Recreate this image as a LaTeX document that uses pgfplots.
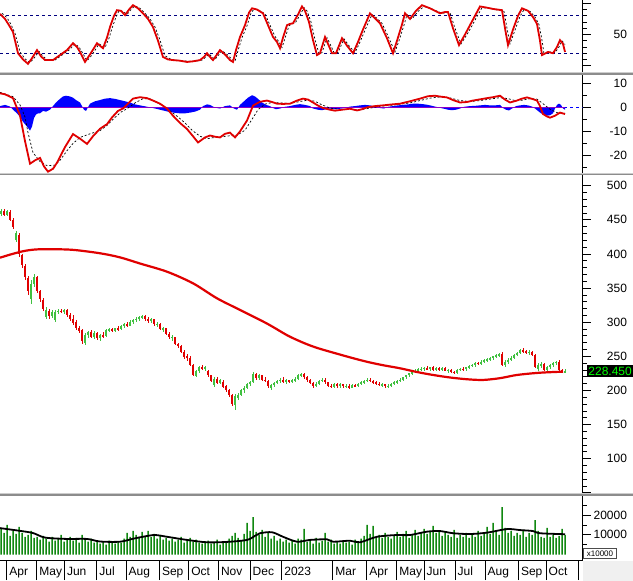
\documentclass[border=0pt]{standalone}
\usepackage{fontspec}
\setmainfont{Liberation Sans}
\usepackage{pgfplots}
\pgfplotsset{compat=1.18}
\usepackage{pgfplotstable}
\definecolor{cred}{RGB}{224,0,0}
\definecolor{cgreen}{RGB}{64,192,64}
\definecolor{vgreen}{RGB}{16,136,16}
\definecolor{navyc}{RGB}{0,0,128}
\definecolor{mpurple}{RGB}{140,0,200}
\definecolor{sepdark}{RGB}{140,140,140}
\definecolor{seplight}{RGB}{205,205,205}
\definecolor{pgreen}{RGB}{0,255,0}

\pgfplotstableread{
x o h l c v
1 458 466 456 463 13000
4 463 466 455 457 11000
7 457 465 455 463 15000
10 462 464 448 450 9500
13 450 452 437 440 12000
16 421 433 418 431 10500
19 428 430 396 400 14000
22 398 400 380 384 11000
25 383 385 362 366 9000
28 365 367 340 345 10000
31 334 362 327 356 12000
34 356 370 352 366 8500
37 366 368 343 346 9000
40 345 347 330 334 7500
43 333 336 317 320 9500
46 308 322 305 318 8000
49 317 320 305 309 6500
52 309 318 306 315 9000
55 303 318 300 315 7000
58 315 320 312 317 8000
61 317 320 313 315 10000
64 315 319 312 318 6500
67 318 320 308 310 7500
70 310 313 302 305 9000
73 305 310 296 299 7000
76 300 303 289 292 8500
79 292 294 284 287 6000
82 288 290 268 272 10000
85 270 284 267 281 7500
88 281 287 277 285 6500
91 285 288 277 279 8000
94 279 287 276 284 6000
97 284 286 274 277 7000
100 277 283 273 281 5500
103 281 285 277 280 6500
106 280 290 279 288 5000
109 288 292 285 290 7000
112 290 292 285 287 6000
115 287 292 285 291 5500
118 291 294 287 290 6500
121 290 296 289 294 6000
124 294 299 292 297 8000
127 297 300 293 295 11000
130 295 303 294 301 9000
133 301 305 298 303 12000
136 303 307 300 305 10000
139 305 309 302 307 8500
142 307 311 304 309 11500
145 309 310 302 304 9500
148 304 307 299 302 12000
151 302 306 299 304 9000
154 304 305 295 297 10500
157 297 300 293 298 8000
160 298 299 288 290 9500
163 290 293 285 291 7500
166 291 292 281 283 8500
169 283 285 276 278 7000
172 278 281 272 279 8000
175 278 279 266 268 6500
178 268 270 262 265 7500
181 265 267 255 257 9000
184 257 259 246 249 6000
187 250 253 243 247 7000
190 247 250 236 238 8500
193 237 239 221 223 6500
196 221 230 219 228 7500
199 228 236 226 234 6000
202 234 237 230 231 5500
205 231 236 229 234 6500
208 229 230 220 222 7000
211 222 223 212 214 5500
214 208 219 205 217 6000
217 217 219 209 211 7500
220 211 217 209 215 5000
223 213 215 203 205 6500
226 206 208 198 200 6000
229 200 202 190 193 8000
232 193 195 177 180 9500
235 178 195 171 192 11000
238 189 196 186 194 8500
241 194 202 192 200 7000
244 200 206 197 204 10500
247 204 211 202 209 16000
250 209 214 206 212 12000
253 212 227 211 224 19000
256 224 225 216 218 11500
259 218 224 216 222 10000
262 222 223 214 216 12500
265 216 219 212 214 9000
268 214 216 204 206 11000
271 204 210 201 208 8000
274 208 213 205 211 9500
277 211 216 209 214 7000
280 214 218 211 216 8000
283 216 219 211 213 6500
286 213 217 210 215 7500
289 215 216 211 213 6000
292 213 217 211 215 7000
295 215 219 213 217 5500
298 217 224 215 222 8000
301 222 226 219 224 7500
304 224 226 217 219 13000
307 219 221 213 215 6500
310 215 217 209 211 7000
313 211 213 204 207 5500
316 207 212 205 210 8500
319 210 216 208 214 6000
322 214 218 212 216 7000
325 216 218 210 212 11000
328 212 213 205 207 6500
331 207 210 203 205 7500
334 205 211 203 209 5500
337 209 211 204 206 6500
340 206 211 204 209 5500
343 209 210 204 206 7000
346 206 209 203 207 6000
349 207 209 202 204 6500
352 204 209 203 208 5000
355 208 210 205 206 7500
358 206 211 205 210 6000
361 210 214 208 212 8000
364 212 216 210 214 9500
367 214 218 212 216 15000
370 216 218 212 214 10500
373 214 215 209 212 14500
376 212 214 208 210 9000
379 210 212 206 208 10000
382 208 211 205 209 8500
385 209 210 204 206 11000
388 206 209 204 207 9000
391 207 211 205 210 8000
394 210 214 208 212 9500
397 212 216 210 214 11500
400 214 218 212 216 9000
403 216 220 214 219 10500
406 219 223 217 222 12000
409 222 226 220 225 8500
412 225 229 222 227 10000
415 227 231 225 229 12500
418 229 233 226 231 9500
421 231 234 228 232 11000
424 232 235 229 233 13000
427 233 236 230 231 10500
430 231 235 229 234 12000
433 234 236 229 230 14500
436 230 234 228 233 11000
439 233 235 229 231 12000
442 231 234 228 233 9500
445 233 234 228 229 11500
448 229 232 226 230 10000
451 230 231 225 227 9000
454 227 229 224 226 12500
457 226 231 224 230 8500
460 230 233 228 232 10000
463 232 234 229 231 9000
466 231 235 229 234 11000
469 234 238 232 236 8500
472 236 239 234 238 10500
475 238 241 235 240 9000
478 240 242 237 239 12000
481 239 244 237 242 9500
484 242 246 240 244 11000
487 244 247 241 246 14000
490 246 249 243 247 10500
493 247 251 245 250 16000
496 250 254 248 252 11500
499 251 255 249 254 10000
502 254 256 236 238 24000
505 238 244 234 241 13500
508 241 247 239 245 11000
511 245 250 243 248 12000
514 248 253 246 252 9500
517 252 257 250 255 11000
520 255 261 253 259 10000
523 259 262 255 258 12500
526 258 260 253 255 9000
529 255 259 252 257 11000
532 257 258 250 252 10000
535 252 254 233 235 17500
538 232 240 229 238 12000
541 237 241 233 239 9000
544 239 240 228 230 8500
547 230 236 228 234 13500
550 234 239 232 237 9000
553 237 241 235 240 10000
556 240 243 237 242 8500
559 242 244 228 230 9500
562 230 232 226 227 13000
565 226.5 231 225 228.45 10000
}\candles

\pgfplotsset{
  panel/.style={
    scale only axis, width=582.7bp, xmin=0, xmax=582.7,
    axis x line=none, axis y line*=right,
    tick align=outside, major tick length=8bp, minor tick length=4bp,
    every tick/.style={black, line width=0.8bp},
    axis line style={black, line width=1bp, -},
    yticklabel style={anchor=east, inner sep=0pt, xshift=36.5bp},
    ticklabel style={font=\fontsize{12bp}{14bp}\selectfont},
    scaled y ticks=false,
  },
}

\begin{document}
\begin{tikzpicture}
\path[use as bounding box, fill=white] (0,0) rectangle (633bp,-581bp);

% ---------------- RSI ----------------
\begin{axis}[panel, at={(0bp,0bp)}, anchor=north west, height=72bp,
  ymin=-10.1, ymax=105.3, ytick={0,50,100}, yticklabels={{},50,{}},
  minor ytick={10,20,30,40,60,70,80,90}]
\addplot[navyc, line width=0.8bp, dash pattern=on 3bp off 3bp] coordinates {(0,80) (582.7,80)};
\addplot[navyc, line width=0.8bp, dash pattern=on 3bp off 3bp] coordinates {(0,20) (582.7,20)};
\addplot[black, line width=0.7bp, dash pattern=on 2bp off 2bp] coordinates {
(2,84)(7,77)(11,66)(15,52)(20,22)(25,11)(30,5)(34,12)(39,23)(43,15)(47,10)(51,9)(55,9)(62,17)(69,25)(75,35)(79,30)(82,22)(87,8)(92,17)(99,35)(105,29)(109,44)(112,60)(116,78)(119,88)(123,87)(127,82)(131,90)(135,96)(140,92)(145,84)(150,75)(155,62)(160,41)(165,16)(170,11)(175,9)(182,8)(189,7)(195,7)(202,9)(206,14)(209,19)(212,14)(215,10)(219,18)(222,24)(227,18)(232,10)(235,7)(238,24)(242,45)(247,64)(251,84)(254,91)(259,89)(265,83)(270,65)(275,47)(279,38)(282,29)(285,44)(289,64)(292,67)(295,68)(300,81)(304,93)(307,88)(311,70)(315,42)(319,19)(322,21)(327,45)(330,35)(334,21)(338,21)(344,43)(349,32)(355,21)(360,38)(365,57)(372,82)(377,76)(382,68)(389,44)(395,22)(399,40)(404,65)(407,82)(412,75)(418,87)(424,95)(432,91)(442,84)(447,85)(450,85)(455,60)(461,35)(467,50)(472,64)(477,79)(482,93)(489,92)(495,90)(504,87)(507,60)(510,35)(515,57)(520,79)(524,90)(530,87)(535,78)(539,66)(542,41)(544,19)(550,22)(555,21)(559,30)(562,40)(565,34)};
\addplot[cred, line width=1.8bp] coordinates {
(0,83)(5,75)(9,65)(13,54)(18,20)(23,10)(28,3)(32,12)(37,25)(41,15)(45,9)(49,9)(53,9)(60,17)(67,25)(73,36)(77,30)(80,22)(85,6)(90,18)(97,36)(103,28)(107,45)(110,62)(114,80)(117,89)(121,88)(125,81)(129,90)(133,97)(138,92)(143,84)(148,75)(153,62)(158,40)(163,14)(168,10)(173,9)(180,8)(187,6)(193,7)(200,9)(204,14)(207,20)(210,14)(213,9)(217,18)(220,25)(225,18)(230,9)(233,6)(236,25)(240,46)(245,65)(249,85)(252,92)(257,90)(263,84)(268,65)(273,46)(277,38)(280,28)(283,45)(287,65)(290,67)(293,68)(298,82)(302,95)(305,88)(309,70)(313,41)(317,17)(320,20)(325,46)(328,35)(332,20)(336,20)(342,44)(347,32)(353,20)(358,38)(363,58)(370,84)(375,76)(380,68)(387,44)(393,20)(397,40)(402,66)(405,84)(410,75)(416,88)(422,97)(430,92)(440,84)(445,86)(448,86)(453,60)(459,33)(465,50)(470,65)(475,80)(480,95)(487,93)(493,91)(502,89)(505,60)(508,33)(513,58)(518,80)(522,92)(528,88)(533,78)(537,67)(540,40)(542,17)(548,22)(553,20)(557,30)(560,41)(563,35)(565,22)};
\end{axis}

% ---------------- MACD ----------------
\begin{axis}[panel, at={(0bp,-75bp)}, anchor=north west, height=97.5bp,
  ymin=-27.05, ymax=13.4, ytick={-20,-10,0,10}, yticklabels={-20,-10,0,10},
  minor ytick={-25,-15,-5,5}]
\addplot[blue, line width=0.8bp, dash pattern=on 3bp off 3bp] coordinates {(0,0) (582.7,0)};
\addplot[fill=blue, draw=none] coordinates {
(0,0.5)(5,1.0)(10,0.3)(13,-1.0)(17,-2.5)(20,-4.0)(23,-6.0)(26,-7.5)(28,-8.5)(30,-9.7)(32,-8.0)(34,-4.5)(36,-3.0)(38,-2.5)(40,-2.5)(43,-1.5)(46,-1.8)(50,-1.0)(53,0.5)(56,2.0)(60,3.5)(63,4.5)(66,4.8)(70,4.5)(73,4.0)(76,3.0)(80,2.0)(82,0.5)(84,-1.0)(86,-1.5)(88,0)(90,1.5)(95,2.5)(100,3.0)(105,3.6)(110,3.8)(115,3.5)(120,3.0)(125,2.5)(130,2.0)(135,1.2)(140,0.8)(145,0.4)(150,0)(155,-0.5)(160,-1.0)(165,-1.5)(170,-2.0)(175,-2.3)(180,-2.5)(185,-2.5)(190,-2.2)(195,-1.8)(200,-1.0)(203,0.5)(207,1.2)(210,1.0)(213,0.3)(217,-0.3)(220,-0.5)(225,0.5)(230,0.8)(234,-0.5)(237,-1.0)(240,1.0)(244,2.5)(248,4.0)(252,5.0)(255,4.5)(258,3.5)(262,2.0)(266,1.0)(270,0.5)(273,-0.3)(276,-0.8)(280,-0.5)(285,0.2)(290,0.5)(295,1.0)(300,1.3)(305,1.0)(310,0.5)(313,-0.5)(318,-1.0)(322,-1.2)(326,-0.8)(330,-0.5)(335,-0.8)(340,-0.6)(345,-0.3)(350,0.3)(355,0.5)(360,0.8)(365,1.0)(370,0.8)(375,0.3)(380,-0.3)(384,-0.5)(388,0.2)(393,0.5)(398,0.8)(403,1.0)(408,1.2)(413,1.5)(418,1.5)(423,1.3)(428,1.0)(433,0.5)(438,0)(443,-0.5)(448,-1.0)(452,-1.2)(456,-1.0)(460,-0.5)(464,0.2)(470,0.5)(475,0.6)(480,0.8)(485,1.0)(490,0.8)(495,0.8)(500,1.0)(503,-0.3)(506,-1.0)(509,-1.3)(512,-0.5)(516,0.5)(520,0.8)(524,1.0)(528,0.8)(532,0.3)(535,-0.5)(538,-1.5)(541,-2.5)(544,-3.0)(547,-3.5)(550,-3.3)(553,-2.5)(555,-0.5)(557,1.0)(559,1.5)(561,1.0)(563,-0.5)(565,-1.0)} \closedcycle;
\addplot[mpurple, line width=1.2bp] coordinates {(0,0) (565,0)};
\addplot[black, line width=0.7bp, dash pattern=on 2bp off 2bp] coordinates {
(0,6.2)(13,4.4)(20,1)(25,-4)(28,-10.5)(33,-18.8)(40,-22.5)(47,-24.2)(55,-24)(60,-22)(67,-18)(73,-15)(80,-12.5)(90,-11)(100,-9.7)(107,-7.5)(115,-4.2)(121,-2)(127,-0.6)(135,1.8)(143,3.6)(150,3.5)(157,2)(163,0.5)(170,-1.5)(178,-4)(185,-6.5)(192,-9.5)(200,-12)(207,-13)(215,-12.5)(222,-12.2)(230,-11.8)(237,-11.6)(245,-9.5)(252,-5)(258,-1)(265,1.3)(272,2)(280,1.8)(290,1.6)(300,2.4)(308,3)(315,2.5)(322,1)(330,-0.3)(340,-0.9)(350,-0.9)(360,-1)(368,-0.5)(380,0.4)(395,1)(410,1.8)(420,2.8)(430,3.8)(440,4.3)(450,3.9)(460,2.8)(470,2.4)(480,2.8)(490,3.4)(500,4.0)(508,3.6)(515,2.8)(522,2.9)(530,3.6)(537,3.4)(543,1.5)(550,-0.8)(557,-2.2)(565,-2.5)};
\addplot[cred, line width=1.8bp] coordinates {
(0,5.8)(5,5.4)(13,3.8)(20,-3.4)(25,-14)(30,-23.4)(35,-22)(40,-21)(44,-24.5)(48,-26.7)(53,-25.5)(57,-23)(65,-16.5)(73,-11.1)(80,-13)(87,-15.2)(93,-12)(100,-8.9)(107,-7)(112,-4.2)(118,-1.5)(123,-0.5)(128,1.5)(133,3.6)(140,4.2)(147,3.8)(153,2.8)(160,1.5)(167,-0.5)(173,-3.5)(180,-6.5)(187,-9)(193,-12)(198,-14.6)(205,-12.5)(210,-11.7)(215,-12.2)(220,-12.5)(225,-11)(230,-10.5)(235,-12.5)(240,-10)(247,-5.5)(253,0.7)(260,2.3)(267,2.8)(272,2.2)(277,1.5)(283,1.4)(290,1.5)(297,2.8)(303,3.6)(308,3.2)(313,2)(318,0.7)(323,-0.3)(330,-1)(335,-1.4)(342,-1.0)(350,-0.6)(357,-1.3)(362,-0.8)(367,0)(375,0.5)(383,0.8)(392,1.2)(400,1.5)(410,2.5)(420,3.6)(428,4.6)(435,4.8)(441,4.4)(447,4.1)(453,3.0)(460,2.0)(467,2.2)(473,2.8)(480,3.3)(487,3.8)(493,4.2)(500,4.8)(505,3.2)(510,2.0)(517,2.8)(522,3.6)(527,4.1)(532,3.5)(537,2.8)(540,0.5)(543,-2.8)(547,-3.8)(550,-4.3)(555,-3.5)(560,-2.2)(565,-2.8)};
\end{axis}

% ---------------- Price ----------------
\begin{axis}[panel, at={(0bp,-175bp)}, anchor=north west, height=318bp,
  ymin=49.74, ymax=515.68, ytick={50,100,...,500},
  yticklabels={{},100,150,200,250,300,350,400,450,500}, minor y tick num=4]
\addplot[draw=none, mark=none, forget plot,
  restrict expr to domain={\thisrow{c}-\thisrow{o}}{0:1000},
  error bars/.cd, y dir=both, y explicit, error mark=none,
  error bar style={draw=cgreen, line width=0.9bp}]
  table[x=x, y expr={(\thisrow{h}+\thisrow{l})/2}, y error expr={(\thisrow{h}-\thisrow{l})/2}] {\candles};
\addplot[draw=none, mark=none, forget plot,
  restrict expr to domain={\thisrow{c}-\thisrow{o}}{-1000:-0.001},
  error bars/.cd, y dir=both, y explicit, error mark=none,
  error bar style={draw=cred, line width=0.9bp}]
  table[x=x, y expr={(\thisrow{h}+\thisrow{l})/2}, y error expr={(\thisrow{h}-\thisrow{l})/2}] {\candles};
\addplot[draw=none, mark=none, forget plot,
  restrict expr to domain={\thisrow{c}-\thisrow{o}}{0:1000},
  error bars/.cd, y dir=both, y explicit, error mark=none,
  error bar style={draw=cgreen, line width=2bp}]
  table[x=x, y expr={(\thisrow{o}+\thisrow{c})/2}, y error expr={abs(\thisrow{c}-\thisrow{o})/2}] {\candles};
\addplot[draw=none, mark=none, forget plot,
  restrict expr to domain={\thisrow{c}-\thisrow{o}}{-1000:-0.001},
  error bars/.cd, y dir=both, y explicit, error mark=none,
  error bar style={draw=cred, line width=2bp}]
  table[x=x, y expr={(\thisrow{o}+\thisrow{c})/2}, y error expr={abs(\thisrow{c}-\thisrow{o})/2}] {\candles};
\addplot[cred, line width=2.2bp, smooth] coordinates {
(0,394.5)(10,399)(23,404)(35,406.5)(50,407)(73,406)(100,401)(120,395)(140,386)(167,374)(193,357)(217,335)(240,318)(267,298)(287,281)(300,272)(310,266)(320,261)(333,255.5)(350,248.5)(367,242)(383,237)(400,232.5)(417,227)(433,222.7)(450,219)(467,216.4)(483,215.4)(500,218)(517,222.7)(540,226)(563,227.5)};
\coordinate (lastp) at (axis cs:582.7,228.45);
\end{axis}

% ---------------- Volume ----------------
\begin{axis}[panel, at={(0bp,-495.5bp)}, anchor=north west, height=64.5bp,
  ymin=-2792, ymax=29949, ytick={10000,20000}, yticklabels={10000,20000},
  minor ytick={5000,15000,25000}]
\addplot[ybar, bar width=1.5bp, bar shift=0pt, fill=vgreen, draw=none] table[x=x, y=v] {\candles};
\addplot[black, line width=1.8bp, smooth] coordinates {
(0,13400)(20,12000)(33,10900)(45,8600)(67,7900)(87,7900)(100,6600)(120,6500)(133,8000)(145,9200)(155,9900)(167,9000)(187,7400)(207,6200)(227,6400)(247,7400)(255,9500)(260,10800)(272,11300)(283,9000)(297,6500)(310,7400)(327,7700)(333,6500)(350,7000)(360,6200)(377,9000)(397,9900)(410,9900)(427,11600)(440,11900)(453,10800)(470,10400)(487,11100)(507,12900)(520,12400)(533,11900)(540,10800)(565,10300)};
\end{axis}

% ---------------- Month axis ----------------
\begin{axis}[scale only axis, width=582.7bp, height=64.5bp, at={(0bp,-495.5bp)}, anchor=north west,
  xmin=0, xmax=582.7, ymin=0, ymax=1, axis y line=none, axis x line*=bottom,
  axis line style={black, line width=1bp, -},
  tick align=outside, major tick length=20bp, xtick style={black, line width=0.8bp},
  xtick={6.7,36.7,64.3,96.7,126,159.3,188.7,218.3,250,281.7,332.7,366.7,396.7,424,455,485,518.3,546,578.3},
  xticklabels={Apr,May,Jun,Jul,Aug,Sep,Oct,Nov,Dec,2023,Mar,Apr,May,Jun,Jul,Aug,Sep,Oct,{}},
  xticklabel style={anchor=base west, inner sep=0pt, xshift=2.5bp, yshift=5bp, font=\fontsize{12bp}{14bp}\selectfont}]
\end{axis}

% separators
\fill[seplight] (0,-72bp) rectangle (633bp,-73.2bp);
\fill[sepdark] (0,-73.2bp) rectangle (633bp,-74.5bp);
\fill[seplight] (0,-172.5bp) rectangle (633bp,-173.7bp);
\fill[sepdark] (0,-173.7bp) rectangle (633bp,-175bp);
\fill[seplight] (0,-493bp) rectangle (633bp,-494.2bp);
\fill[sepdark] (0,-494.2bp) rectangle (633bp,-495.5bp);

% price tag
\node[fill=black, text=pgreen, anchor=west, inner xsep=1bp, inner ysep=1.5bp,
  font=\fontsize{12bp}{14bp}\selectfont] at ([xshift=4.5bp]lastp) {228.450};

% x10000 box and bottom-right corner
\fill[gray!12] (583bp,-560.5bp) rectangle (633bp,-581bp);
\draw[black!70, fill=white, line width=0.6bp] (583.5bp,-548bp) rectangle (616.5bp,-558.5bp);
\node[font=\fontsize{8bp}{9bp}\selectfont, inner sep=0pt] at (600bp,-553.3bp) {x10000};
\end{tikzpicture}
\end{document}
